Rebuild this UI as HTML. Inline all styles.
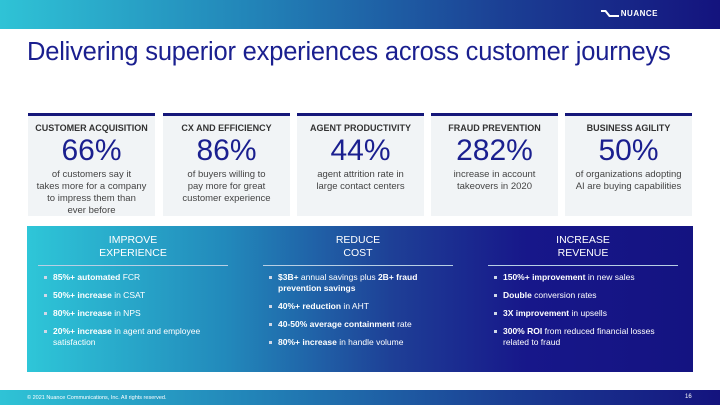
<!DOCTYPE html>
<html><head><meta charset="utf-8"><style>
*{margin:0;padding:0;box-sizing:border-box}
body{width:720px;height:405px;position:relative;overflow:hidden;background:#fff;font-family:"Liberation Sans",sans-serif}
.top{position:absolute;left:0;top:0;width:720px;height:29px;background:linear-gradient(90deg,#2fc3d6 0%,#2284b8 35%,#1b3f94 70%,#14137e 100%)}
.logo{position:absolute;right:62px;top:9px;color:#fff;font-size:8px;font-weight:bold;letter-spacing:.5px}
.logo span{display:inline-block;width:18px;height:8px;margin-right:2px;vertical-align:-1px}
h1{position:absolute;left:27px;top:38px;font-size:25.5px;font-weight:normal;color:#1a1f8f;letter-spacing:-.2px}
.card{position:absolute;top:113px;width:127px;height:103px;background:#f1f4f6;border-top:3px solid #15177a;text-align:center;color:#333}
.card .t{font-size:9px;font-weight:bold;margin-top:7px;color:#333;white-space:nowrap}
.card .n{font-size:30px;color:#1a1f8f;line-height:30px;margin-top:3px}
.card .d{font-size:9.5px;line-height:12px;color:#444;margin-top:3px;white-space:nowrap}
.panel{position:absolute;left:27px;top:226px;width:666px;height:146px;background:linear-gradient(90deg,#2ec6d8 0%,#2289bb 30%,#1e3f96 55%,#17178a 75%,#141381 100%);color:#fff}
.col{position:absolute;top:0}
.col .h{text-align:center;font-size:10.5px;line-height:13px;margin-top:8px;height:26px}
.col .ln{border-top:1px solid #b8cfe4;margin-top:5px}
.col ul{list-style:none;margin-top:6px;font-size:8.5px}
.col li{position:relative;padding-left:15px;line-height:11px;margin-bottom:7px}
.col li:before{content:"";position:absolute;left:6px;top:4px;width:3px;height:3px;background:#d0d8e8}
.foot{position:absolute;left:0;top:390px;width:720px;height:15px;background:linear-gradient(90deg,#2fc3d6 0%,#2284b8 35%,#1b3f94 70%,#14137e 100%);color:#fff;font-size:5.5px}
</style></head><body>
<div class="top"><div class="logo"><span><svg width="18" height="8" viewBox="0 0 18 8"><path d="M0 1h5l4 5h9v2h-10l-4-5H0z" fill="#fff"/></svg></span>NUANCE</div></div>
<h1>Delivering superior experiences across customer journeys</h1>

<div class="card" style="left:28px"><div class="t">CUSTOMER ACQUISITION</div><div class="n">66%</div><div class="d">of customers say it<br>takes more for a company<br>to impress them than<br>ever before</div></div>
<div class="card" style="left:163px"><div class="t">CX AND EFFICIENCY</div><div class="n">86%</div><div class="d">of buyers willing to<br>pay more for great<br>customer experience</div></div>
<div class="card" style="left:297px"><div class="t">AGENT PRODUCTIVITY</div><div class="n">44%</div><div class="d">agent attrition rate in<br>large contact centers</div></div>
<div class="card" style="left:431px"><div class="t">FRAUD PREVENTION</div><div class="n">282%</div><div class="d">increase in account<br>takeovers in 2020</div></div>
<div class="card" style="left:565px"><div class="t">BUSINESS AGILITY</div><div class="n">50%</div><div class="d">of organizations adopting<br>AI are buying capabilities</div></div>

<div class="panel">
<div class="col" style="left:11px;width:190px"><div class="h">IMPROVE<br>EXPERIENCE</div><div class="ln"></div><ul>
<li><b>85%+ automated</b> FCR</li><li><b>50%+ increase</b> in CSAT</li><li><b>80%+ increase</b> in NPS</li><li><b>20%+ increase</b> in agent and employee satisfaction</li></ul></div>
<div class="col" style="left:236px;width:190px"><div class="h">REDUCE<br>COST</div><div class="ln"></div><ul>
<li><b>$3B+</b> annual savings plus <b>2B+ fraud prevention savings</b></li><li><b>40%+ reduction</b> in AHT</li><li><b>40-50% average containment</b> rate</li><li><b>80%+ increase</b> in handle volume</li></ul></div>
<div class="col" style="left:461px;width:190px"><div class="h">INCREASE<br>REVENUE</div><div class="ln"></div><ul>
<li><b>150%+ improvement</b> in new sales</li><li><b>Double</b> conversion rates</li><li><b>3X improvement</b> in upsells</li><li><b>300% ROI</b> from reduced financial losses related to fraud</li></ul></div>
</div>

<div class="foot"><span style="position:absolute;left:27px;top:5px">© 2021 Nuance Communications, Inc. All rights reserved.</span><span style="position:absolute;left:685px;top:4px;font-size:6px">16</span></div>
</body></html>
